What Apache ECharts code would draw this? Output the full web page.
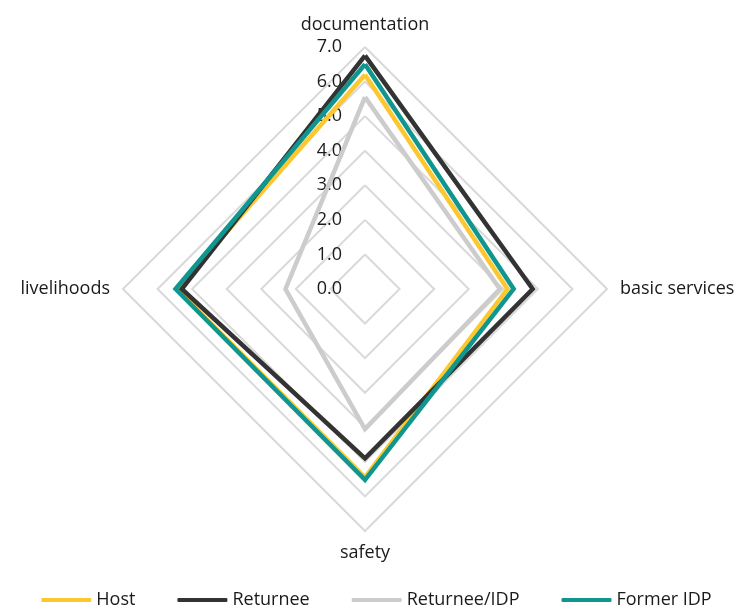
<!DOCTYPE html>
<html>
<head>
<meta charset="utf-8">
<script src="https://cdn.jsdelivr.net/npm/echarts@6/dist/echarts.min.js"></script>
<style>
  html, body { margin: 0; padding: 0; background: #ffffff; }
  #chart { width: 753px; height: 613px; }
</style>
</head>
<body>
<div id="chart"></div>
<script>
  // axes of the radar, clockwise from top
  var indicators = ['documentation', 'basic services', 'safety', 'livelihoods'];
  var seriesNames = ['Host', 'Returnee', 'Returnee/IDP', 'Former IDP'];
  var seriesColors = ['#fdc82f', '#333333', '#cccccc', '#10968f'];

  // values per group, same order as indicators
  var host = [6.2, 4.12, 5.45, 5.45];
  var returnee = [6.75, 4.85, 4.9, 5.3];
  var returneeIdp = [5.55, 3.9, 4.05, 2.3];
  var formerIdp = [6.5, 4.3, 5.52, 5.48];
  var allValues = [host, returnee, returneeIdp, formerIdp];

  var maxValue = 7;

  var cx = 365, cy = 289, radius = 242;
  var font = 'Open Sans';

  var chart = echarts.init(document.getElementById('chart'));

  // echarts lays indicators out counter-clockwise, so reorder: top, left, bottom, right
  var order = [0, 3, 2, 1];

  var radarSeries = seriesNames.map(function (name, i) {
    return {
      name: name,
      type: 'radar',
      symbol: 'none',
      lineStyle: { color: seriesColors[i], width: 4.5, join: 'miter' },
      itemStyle: { color: seriesColors[i] },
      data: [{ name: name, value: order.map(function (k) { return allValues[i][k]; }) }]
    };
  });

  chart.setOption({
    backgroundColor: '#ffffff',
    animation: false,
    textStyle: { fontFamily: font },
    legend: {
      bottom: -1,
      left: 'center',
      data: seriesNames,
      icon: 'roundRect',
      itemWidth: 50,
      itemHeight: 4,
      itemGap: 42,
      textStyle: { fontFamily: font, fontSize: 18, color: '#1a1a1a' }
    },
    radar: {
      center: [cx, cy],
      radius: radius,
      startAngle: 90,
      shape: 'polygon',
      splitNumber: 7,
      indicator: order.map(function (k) {
        return { name: indicators[k], min: 0, max: maxValue };
      }),
      axisName: { color: '#1a1a1a', fontFamily: font, fontSize: 18 },
      nameGap: 13,
      axisLine: { show: false },
      splitArea: { show: false },
      splitLine: { lineStyle: { color: '#d9d9d9', width: 2 } }
    },
    // value labels along the top axis, drawn by a plain y axis lined up with the radar
    grid: { left: cx, top: cy - radius, width: 1, height: radius },
    xAxis: { type: 'value', show: false, min: 0, max: 1 },
    yAxis: {
      type: 'value',
      min: 0,
      max: maxValue,
      interval: 1,
      axisLine: { show: false },
      axisTick: { show: false },
      splitLine: { show: false },
      axisLabel: {
        margin: 23,
        color: '#1a1a1a',
        fontFamily: font,
        fontSize: 18,
        formatter: function (v) { return v.toFixed(1); }
      }
    },
    series: radarSeries
  });
</script>
</body>
</html>
